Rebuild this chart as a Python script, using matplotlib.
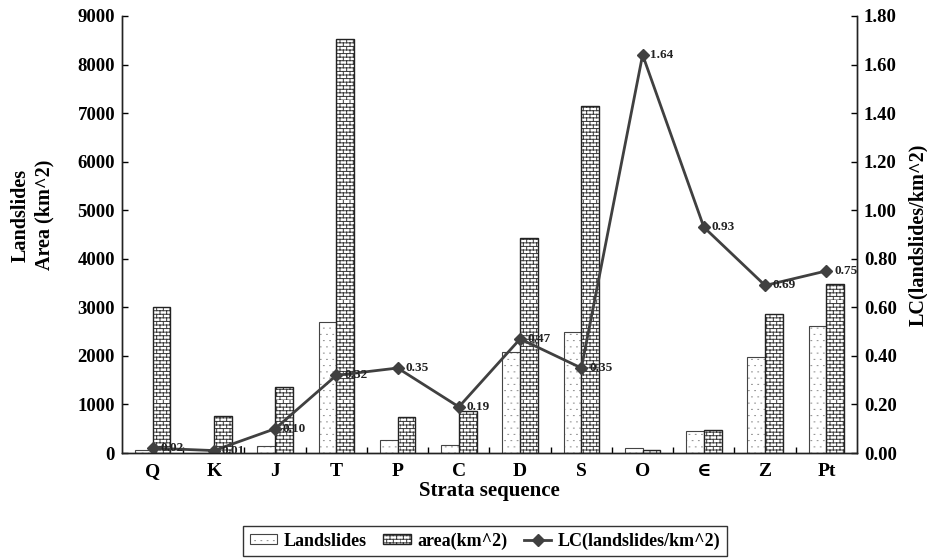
import warnings
warnings.filterwarnings("ignore")
import numpy as np
import matplotlib
matplotlib.use("Agg")
import matplotlib.pyplot as plt
import matplotlib.hatch as mhatch
from matplotlib.path import Path
from matplotlib.ticker import FormatStrFormatter

# ---- data ----
categories = ["Q", "K", "J", "T", "P", "C", "D", "S", "O", "\u2208", "Z", "Pt"]
landslides = [60, 10, 150, 2700, 260, 170, 2080, 2500, 110, 450, 1980, 2620]
area = [3010, 760, 1360, 8520, 740, 870, 4430, 7150, 70, 480, 2870, 3480]
lc = [0.02, 0.01, 0.10, 0.32, 0.35, 0.19, 0.47, 0.35, 1.64, 0.93, 0.69, 0.75]
lc_labels = ["0.02", "0.01", "0.10", "0.32", "0.35", "0.19", "0.47", "0.35", "1.64", "0.93", "0.69", "0.75"]


# ---- custom brick hatch ('b') ----
class BrickHatch(mhatch.HatchPatternBase):
    def __init__(self, hatch, density):
        c = hatch.count('b')
        n = int(c * density * 4.5)
        if n % 2:
            n += 1
        self.n = n
        self.m = int(round(n * 0.55)) if n else 0
        self.num_vertices = (n * 2 + n * self.m * 2) if n else 0

    def set_vertices_and_codes(self, vertices, codes):
        n, m = self.n, self.m
        verts = []
        for i in range(n):
            y = i / n
            verts.append((0.0, y))
            verts.append((1.0, y))
        for i in range(n):
            y0 = i / n
            y1 = (i + 1) / n
            off = 0.0 if i % 2 == 0 else 0.5 / m
            for j in range(m):
                xx = j / m + off
                verts.append((xx, y0))
                verts.append((xx, y1))
        vertices[:] = np.array(verts)
        codes[0::2] = Path.MOVETO
        codes[1::2] = Path.LINETO


# ---- custom sparse dot hatch ('d') ----
class DotHatch(mhatch.HatchPatternBase):
    def __init__(self, hatch, density):
        c = hatch.count('d')
        n = int(c * density * 2.5)
        if n % 2:
            n += 1
        self.n = n
        self.m = n
        self.num_vertices = n * self.m * 2 if n else 0

    def set_vertices_and_codes(self, vertices, codes):
        n, m = self.n, self.m
        verts = []
        eps = 0.008
        for i in range(n):
            y = (i + 0.5) / n
            off = 0.0 if i % 2 == 0 else 0.5 / m
            for j in range(m):
                xx = j / m + off + 0.25 / m
                verts.append((xx, y))
                verts.append((xx + eps, y))
        vertices[:] = np.array(verts)
        codes[0::2] = Path.MOVETO
        codes[1::2] = Path.LINETO


mhatch._hatch_types.append(BrickHatch)
mhatch._hatch_types.append(DotHatch)

FONT = ['Liberation Serif', 'DejaVu Serif']
plt.rcParams['font.family'] = FONT
plt.rcParams['font.weight'] = 'bold'
plt.rcParams['hatch.linewidth'] = 0.7

fig = plt.figure(figsize=(9.28, 5.58), dpi=100)
ax = fig.add_axes([122 / 928, 1 - 453 / 558, (857 - 122) / 928, (453 - 16) / 558])
ax2 = ax.twinx()

x = np.arange(len(categories))
w = 0.29
b1 = ax.bar(x - w / 2, landslides, w, facecolor='white', edgecolor='#444444',
            hatch='d', linewidth=0.8, label='Landslides')
for p in b1:
    p._hatch_color = matplotlib.colors.to_rgba('#888888')
b2 = ax.bar(x + w / 2, area, w, facecolor='white', edgecolor='#222222',
            hatch='b', linewidth=1.0, label='area(km^2)')
for p in b2:
    p._hatch_color = matplotlib.colors.to_rgba('#3a3a3a')

ln, = ax2.plot(x, lc, color='#404040', linewidth=2, marker='D', markersize=6.5,
               label='LC(landslides/km^2)')
for xi, yi, t in zip(x, lc, lc_labels):
    ax2.annotate(t, (xi, yi), xytext=(5.5, 0), textcoords='offset points',
                 va='center', ha='left', fontsize=9.5, fontweight='bold', color='#222222')

ax.set_xlim(-0.5, len(categories) - 0.5)
ax.set_ylim(0, 9000)
ax2.set_ylim(0, 1.8)
ax.set_yticks(np.arange(0, 9001, 1000))
ax2.set_yticks(np.arange(0, 1.81, 0.2))
ax2.yaxis.set_major_formatter(FormatStrFormatter('%.2f'))

ax.set_xticks(x)
ax.set_xticklabels(categories)
ax.set_xticks(np.arange(0.5, len(categories) - 1, 1), minor=True)
ax.tick_params(axis='x', which='major', length=0, labelsize=14, pad=7)
ax.tick_params(axis='x', which='minor', direction='in', length=4, width=1)
ax.tick_params(axis='y', direction='in', length=4, width=1, labelsize=13.5, pad=5)
ax2.tick_params(axis='y', direction='in', length=4, width=1, labelsize=13.5, pad=5)

for a in (ax, ax2):
    a.spines['top'].set_visible(False)
    for s in ('left', 'right', 'bottom'):
        a.spines[s].set_linewidth(1.0)
        a.spines[s].set_color('#222222')

for lab in ax.get_xticklabels() + ax.get_yticklabels() + ax2.get_yticklabels():
    lab.set_fontweight('bold')

ax.set_xlabel('Strata sequence', fontsize=15, fontweight='bold', labelpad=1)
fig.text(33 / 928, 1 - 215 / 558, 'Landslides\nArea (km^2)', rotation=90,
         ha='center', va='center', fontsize=14.5, fontweight='bold',
         linespacing=1.25, multialignment='center')
ax2.set_ylabel('LC(landslides/km^2)', fontsize=14.5, fontweight='bold', labelpad=8)

leg = fig.legend([b1, b2, ln], ['Landslides', 'area(km^2)', 'LC(landslides/km^2)'],
                 loc='center', bbox_to_anchor=(485 / 928, 1 - 541 / 558), ncol=3,
                 frameon=True, fancybox=False, edgecolor='black', fontsize=13,
                 handlelength=1.5, columnspacing=0.95, borderpad=0.35,
                 handletextpad=0.35, handleheight=0.5)
leg.get_frame().set_linewidth(1.0)
for t in leg.get_texts():
    t.set_fontweight('bold')

fig.savefig('out.png', dpi=100)
